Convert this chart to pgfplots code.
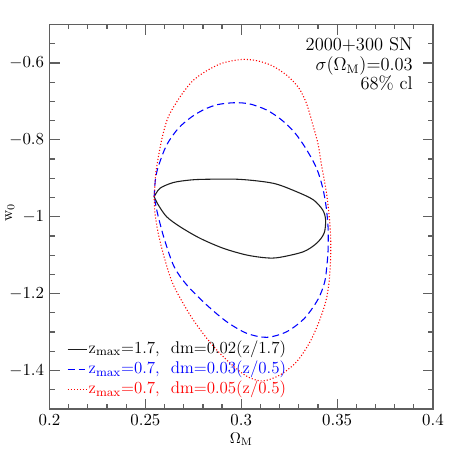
\documentclass[border=0pt]{standalone}
\usepackage{pgfplots}
\pgfplotsset{compat=1.18}
\definecolor{framegray}{RGB}{95,95,95}
\definecolor{curveblack}{RGB}{30,30,30}

\begin{document}
\begin{tikzpicture}
\begin{axis}[
    at={(32.175pt,31.85pt)}, anchor=south west,
    scale only axis,
    width=249.275pt, height=249.925pt,
    xmin=0.2, xmax=0.4,
    ymin=-1.5, ymax=-0.5,
    xtick={0.2,0.25,0.3,0.35,0.4},
    ytick={-1.4,-1.2,-1,-0.8,-0.6},
    minor xtick={0.21,0.22,0.23,0.24,0.26,0.27,0.28,0.29,0.31,0.32,0.33,0.34,0.36,0.37,0.38,0.39},
    minor ytick={-1.45,-1.35,-1.3,-1.25,-1.15,-1.1,-1.05,-0.95,-0.9,-0.85,-0.75,-0.7,-0.65,-0.55},
    scaled ticks=false,
    tick align=inside,
    tick pos=both,
    major tick length=6.5pt,
    minor tick length=3.25pt,
    ticklabel style={font=\fontsize{11}{13}\selectfont},
    axis line style={framegray, line width=0.9pt},
    every tick/.style={framegray, line width=0.8pt},
    xlabel={$\Omega_{\mathrm{M}}$},
    ylabel={w$_0$},
    label style={font=\fontsize{11}{13}\selectfont},
    every axis x label/.style={at={(axis description cs:0.5,-0.078)}, anchor=center},
    every axis y label/.style={at={(axis description cs:-0.103,0.51)}, rotate=90, anchor=center},
    legend style={draw=none, fill=none, at={(axis description cs:0.045,0.180)},
        anchor=north west, inner sep=0pt, row sep=1.2pt,
        font=\fontsize{11}{13}\selectfont,
        nodes={inner sep=1pt, text height=7.5pt, text depth=2.5pt},
        cells={anchor=west}},
    legend image code/.code={\draw[#1] (0pt,0pt) -- (12.35pt,0pt);},
]

% z_max=1.7, dm=0.02(z/1.7)
\addplot[curveblack, line width=0.7pt, smooth, tension=0.5] coordinates {
    (0.2546,-0.948)(0.2576,-0.926)(0.2646,-0.911)(0.2733,-0.9045)
    (0.2820,-0.9025)(0.2994,-0.9028)(0.3167,-0.913)(0.3289,-0.935)
    (0.3376,-0.956)(0.3425,-0.9825)(0.3440,-1.0085)(0.3432,-1.043)
    (0.3393,-1.069)(0.3324,-1.091)(0.3202,-1.1055)(0.3133,-1.107)
    (0.3028,-1.0995)(0.2906,-1.082)(0.2785,-1.056)(0.2681,-1.026)
    (0.2611,-1.000)(0.2567,-0.969)(0.2546,-0.948)
};
\addlegendentry{z$_{\mathrm{max}}$=1.7,\ \ dm=0.02(z/1.7)}

% z_max=0.7, dm=0.03(z/0.5)
\addplot[blue, line width=0.7pt, dash pattern=on 4.5pt off 2.6pt, smooth, tension=0.5] coordinates {
    (0.2546,-0.948)(0.2552,-0.905)(0.2567,-0.870)(0.2611,-0.8134)
    (0.2672,-0.770)(0.2742,-0.740)(0.2811,-0.720)(0.2880,-0.708)
    (0.2967,-0.7034)(0.3046,-0.7068)(0.3133,-0.7225)(0.3210,-0.748)
    (0.3280,-0.782)(0.3340,-0.825)(0.3393,-0.874)(0.3425,-0.925)
    (0.3443,-0.975)(0.3453,-1.030)(0.3453,-1.085)(0.3447,-1.125)
    (0.3435,-1.170)(0.3400,-1.215)(0.3330,-1.264)(0.3237,-1.299)
    (0.3133,-1.3136)(0.3028,-1.303)(0.2924,-1.273)(0.2820,-1.2295)
    (0.2716,-1.1775)(0.2650,-1.130)(0.2600,-1.060)(0.2565,-0.995)
    (0.2546,-0.948)
};
\addlegendentry{\textcolor{blue}{z$_{\mathrm{max}}$=0.7,\ \ dm=0.03(z/0.5)}}

% z_max=0.7, dm=0.05(z/0.5)
\addplot[red, line width=0.7pt, dash pattern=on 0.7pt off 1.3pt, smooth, tension=0.5] coordinates {
    (0.2546,-0.948)(0.2552,-0.900)(0.2559,-0.870)(0.2585,-0.800)
    (0.2618,-0.742)(0.2676,-0.692)(0.2742,-0.649)(0.2811,-0.623)
    (0.2898,-0.601)(0.3002,-0.591)(0.3080,-0.594)(0.3160,-0.607)
    (0.3240,-0.633)(0.3300,-0.665)(0.3340,-0.705)(0.3370,-0.755)
    (0.3400,-0.810)(0.3420,-0.870)(0.3442,-0.930)(0.3457,-0.990)
    (0.3466,-1.050)(0.3466,-1.110)(0.3458,-1.170)(0.3442,-1.218)
    (0.3408,-1.270)(0.3359,-1.325)(0.3289,-1.377)(0.3202,-1.4116)
    (0.3115,-1.427)(0.3050,-1.420)(0.2994,-1.403)(0.2906,-1.364)
    (0.2820,-1.316)(0.2733,-1.2555)(0.2646,-1.1775)(0.2602,-1.112)
    (0.2568,-1.045)(0.2550,-0.990)(0.2546,-0.948)
};
\addlegendentry{\textcolor{red}{z$_{\mathrm{max}}$=0.7,\ \ dm=0.05(z/0.5)}}

\node[anchor=north east, align=right, inner sep=0pt, font=\fontsize{12}{12.7}\selectfont]
    at (rel axis cs:0.948,0.966)
    {2000+300 SN\\ $\sigma(\Omega_{\mathrm{M}})$=0.03\\ 68\% cl};

\end{axis}
\path (0,0) rectangle (297.7pt,297.7pt);
\end{tikzpicture}
\end{document}
